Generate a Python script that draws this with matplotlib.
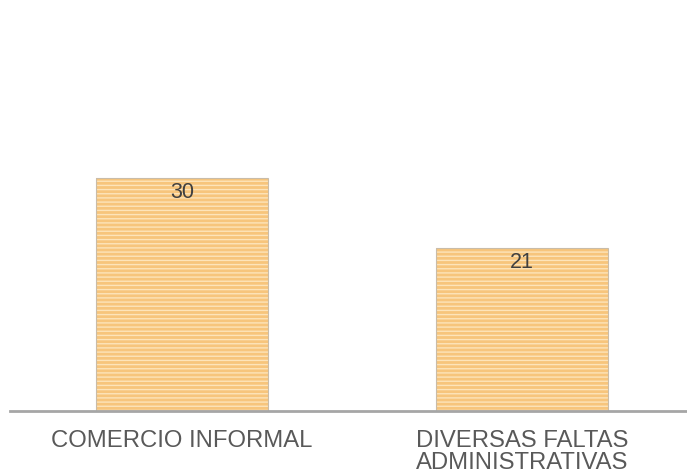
import matplotlib.pyplot as plt
import matplotlib as mpl

# data
categories = ["COMERCIO INFORMAL", "DIVERSAS FALTAS\nADMINISTRATIVAS"]
values = [30, 21]

plt.rcParams["font.family"] = ["Liberation Sans", "DejaVu Sans"]
mpl.rcParams["hatch.linewidth"] = 1.0

fig = plt.figure(figsize=(6.87, 4.75), dpi=100)
ax = fig.add_axes([0.0146, 1 - 411 / 475, 1 - 0.0146, (411 - 22) / 475])

x = range(len(categories))
# striped fill (hatch follows edgecolor), then a thin grey outline on top
bars = ax.bar(x, values, width=0.505, color="#F7C57C", edgecolor="#FDE4BA",
              linewidth=0, hatch="----")
ax.bar(x, values, width=0.505, fill=False, edgecolor="#C9BCA8", linewidth=0.8)

for b, v in zip(bars, values):
    ax.text(b.get_x() + b.get_width() / 2, v - 0.6, str(v), ha="center", va="top",
            fontsize=15.5, color="#404040")

ax.set_xlim(-0.505, 1.485)
ax.set_ylim(0, 50)
ax.set_xticks(list(x))
ax.set_xticklabels(categories, fontsize=17.2, color="#595959", va="top",
                   linespacing=1.0)
ax.tick_params(axis="x", length=0, pad=14)
ax.set_yticks([])
for s in ["top", "right", "left"]:
    ax.spines[s].set_visible(False)
ax.spines["bottom"].set_color("#A6A6A6")
ax.spines["bottom"].set_linewidth(2)

fig.savefig("out.png", dpi=100)
